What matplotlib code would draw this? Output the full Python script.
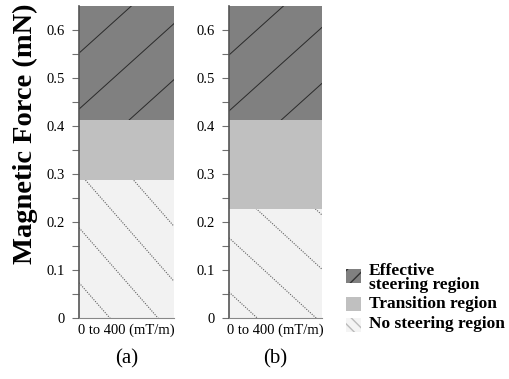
import numpy as np
import matplotlib.pyplot as plt
from matplotlib.patches import Rectangle

plt.rcParams['font.family'] = ['Liberation Serif', 'DejaVu Serif']

# Datos: limites de cada region (mN) para cada caso
paneles = ['(a)', '(b)']
sin_direccion = [0.288, 0.228]      # No steering region (0 -> valor)
transicion = [0.413, 0.413]         # Transition region (hasta valor)
efectiva = [0.65, 0.65]             # Effective steering region (hasta valor)
etiqueta_x = '0 to 400 (mT/m)'
yticks = [0, 0.1, 0.2, 0.3, 0.4, 0.5, 0.6]
ytick_labels = ['0', '0.1', '0.2', '0.3', '0.4', '0.5', '0.6']
nombres = ['Effective\nsteering region', 'Transition region', 'No steering region']

# Colores
c_efectiva = '#808080'
c_transicion = '#c0c0c0'
c_sin = '#f2f2f2'

# Patron de rayas (pendiente, corte en x=0, separacion) por panel
rayas_sol = [(0.178, 0.552, 0.1167), (0.174, 0.548, 0.1167)]
rayas_pun = [(-0.226, 0.188, 0.1146), (-0.178, 0.167, 0.113)]


def rayar(ax, barra, pendiente, corte, sep, **estilo):
    x = np.array([0.0, 1.0])
    for k in range(-8, 9):
        linea, = ax.plot(x, corte + k * sep + pendiente * x, **estilo)
        linea.set_clip_path(barra)


W, H = 510, 379
fig = plt.figure(figsize=(W / 100, H / 100), dpi=100)
posiciones = [0.155, 0.449]
anchos = [0.186, 0.182]

for i in range(2):
    ax = fig.add_axes([posiciones[i], 0.161, anchos[i], 0.823])
    b1 = ax.bar([0], [sin_direccion[i]], width=1, align='edge', color=c_sin)[0]
    ax.bar([0], [transicion[i] - sin_direccion[i]], bottom=sin_direccion[i],
           width=1, align='edge', color=c_transicion)
    b3 = ax.bar([0], [efectiva[i] - transicion[i]], bottom=transicion[i],
                width=1, align='edge', color=c_efectiva)[0]
    p, c, s = rayas_sol[i]
    rayar(ax, b3, p, c, s, color='#2a2a2a', lw=0.7)
    p, c, s = rayas_pun[i]
    rayar(ax, b1, p, c, s, color='#606060', lw=0.8, ls=(0, (1, 1.2)))

    ax.set_xlim(0, 1)
    ax.set_ylim(0, 0.65)
    ax.set_yticks(yticks)
    ax.set_yticklabels(ytick_labels)
    ax.set_yticks(np.arange(0.05, 0.65, 0.1), minor=True)
    ax.tick_params(axis='y', which='both', direction='out', length=5,
                   width=0.8, color='#707070', labelsize=10.5, pad=5)
    ax.set_xticks([0.5])
    ax.set_xticklabels([etiqueta_x])
    ax.tick_params(axis='x', length=0, labelsize=10.5, pad=4)
    for lado in ['top', 'right']:
        ax.spines[lado].set_visible(False)
    ax.spines['left'].set_color('#555555')
    ax.spines['left'].set_linewidth(1.2)
    ax.spines['bottom'].set_color('#888888')
    ax.spines['bottom'].set_linewidth(0.8)
    ax.text(0.5, -0.13, paneles[i], transform=ax.transAxes, ha='center',
            va='center', fontsize=15)

fig.text(25 / W, 1 - 134 / H, 'Magnetic Force (mN)', rotation=90, ha='center',
         va='center', fontsize=20.5, fontweight='bold')

# Leyenda dibujada a mano (cuadros + texto)
estilos = [
    dict(facecolor=c_efectiva, edgecolor='#333333', hatch='//', lw=0),
    dict(facecolor=c_transicion, edgecolor=c_transicion, lw=0),
    dict(facecolor='#f4f4f4', edgecolor='#bbbbbb', hatch='\\\\\\', lw=0),
]
y_cuadro = [276, 304, 325]
y_texto = [278, 304, 324]
for est, yc, yt, nombre in zip(estilos, y_cuadro, y_texto, nombres):
    fig.patches.append(Rectangle((346 / W, 1 - (yc + 7) / H), 15 / W, 14 / H,
                                 transform=fig.transFigure, **est))
    fig.text(369 / W, 1 - yt / H, nombre, ha='left', va='center',
             fontsize=12.5, fontweight='bold', linespacing=0.85)

plt.savefig('out.png', dpi=100)
